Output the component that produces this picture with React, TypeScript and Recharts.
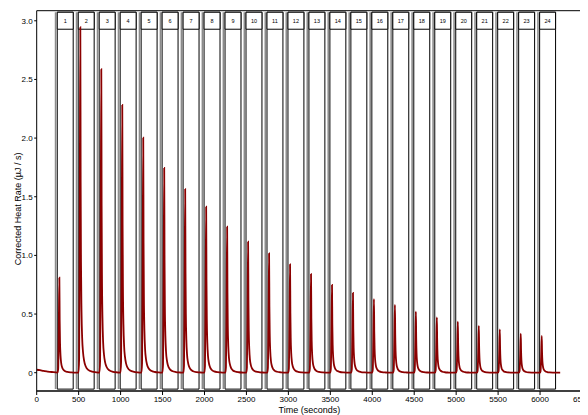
import { LineChart, Line, XAxis, YAxis, ReferenceArea, ReferenceLine } from 'recharts';

const FONT = '"Liberation Sans", Arial, sans-serif';

// peak maxima (time s, height µJ/s)
const peakTimes = [270, 520, 770, 1020, 1270, 1520, 1770, 2020, 2270, 2520, 2770, 3020,
  3270, 3520, 3770, 4020, 4270, 4520, 4770, 5020, 5270, 5520, 5770, 6020];
const peakHeights = [0.81, 2.945, 2.587, 2.282, 2.003, 1.745, 1.565, 1.415, 1.245, 1.117, 1.018, 0.924,
  0.841, 0.748, 0.68, 0.628, 0.577, 0.52, 0.472, 0.435, 0.4, 0.37, 0.332, 0.313];

// shape of one injection peak, relative to its maximum
const shapeOffsets = [-22, -14, -7, 0, 4, 8, 14, 22, 32, 45, 65, 95, 140, 190, 220];
const shapeFractions = [0, 0.04, 0.45, 1, 0.55, 0.32, 0.18, 0.1, 0.06, 0.035, 0.018, 0.008, 0.003, 0.001, 0];

// pre-injection baseline
const startTimes = [0, 40, 80, 130, 180, 230];
const startValues = [0.025, 0.022, 0.015, 0.01, 0.006, 0.003];

// injection windows
const boxStarts = [245, 495, 745, 995, 1245, 1495, 1745, 1995, 2245, 2495, 2745, 2995,
  3245, 3495, 3745, 3995, 4245, 4495, 4745, 4995, 5245, 5495, 5745, 5995];
const boxEnds = [435, 685, 935, 1185, 1435, 1685, 1935, 2185, 2435, 2685, 2935, 3185,
  3435, 3685, 3935, 4185, 4435, 4685, 4935, 5185, 5435, 5685, 5935, 6185];
const boxLabels = ['1', '2', '3', '4', '5', '6', '7', '8', '9', '10', '11', '12',
  '13', '14', '15', '16', '17', '18', '19', '20', '21', '22', '23', '24'];

const xTicks = [0, 500, 1000, 1500, 2000, 2500, 3000, 3500, 4000, 4500, 5000, 5500, 6000, 6500];
const xMinorTicks = Array.from({ length: 66 }, (_, i) => i * 100);
const yTicks = [0, 0.5, 1, 1.5, 2, 2.5, 3];
const yMinorTicks = [-0.1, 0, 0.1, 0.2, 0.3, 0.4, 0.5, 0.6, 0.7, 0.8, 0.9, 1, 1.1, 1.2, 1.3, 1.4, 1.5,
  1.6, 1.7, 1.8, 1.9, 2, 2.1, 2.2, 2.3, 2.4, 2.5, 2.6, 2.7, 2.8, 2.9, 3];

const X_DOMAIN: [number, number] = [0, 6500];
const Y_DOMAIN: [number, number] = [-0.156, 3.086];
const BOX_BOTTOM = -0.14;
const BOX_TOP = 3.073;
const LABEL_BOTTOM = 2.928;

const data: { t: number; v: number }[] = [];
startTimes.forEach((t, i) => data.push({ t, v: startValues[i] }));
peakTimes.forEach((p, k) => {
  shapeOffsets.forEach((o, j) => {
    data.push({ t: p + o, v: peakHeights[k] * shapeFractions[j] });
  });
});

export default function App() {
  return (
    <div style={{ width: 580, height: 407 }}>
      <LineChart width={580} height={407} data={data} margin={{ top: 2.7, right: 6, bottom: 0, left: 0 }}>
        <XAxis
          xAxisId="main"
          type="number"
          dataKey="t"
          domain={X_DOMAIN}
          allowDataOverflow
          ticks={xTicks}
          interval={0}
          height={24}
          tickSize={4}
          tickMargin={1}
          axisLine={{ stroke: '#000', strokeWidth: 1.6 }}
          tickLine={{ stroke: '#000' }}
          tick={{ fontSize: 8, fill: '#000', fontFamily: FONT }}
          label={{ value: 'Time (seconds)', position: 'insideBottom', offset: 2, fontSize: 9, fill: '#000', fontFamily: FONT }}
        />
        <XAxis xAxisId="minor" type="number" dataKey="t" domain={X_DOMAIN} allowDataOverflow ticks={xMinorTicks}
          interval={0} mirror tick={false} axisLine={false} tickSize={3} tickLine={{ stroke: '#000' }} />
        <XAxis xAxisId="majorIn" type="number" dataKey="t" domain={X_DOMAIN} allowDataOverflow ticks={xTicks}
          interval={0} mirror tick={false} axisLine={false} tickSize={4} tickLine={{ stroke: '#000' }} />
        <XAxis xAxisId="top" orientation="top" type="number" dataKey="t" domain={X_DOMAIN} allowDataOverflow
          mirror tick={false} tickLine={false} axisLine={{ stroke: '#000' }} />
        <YAxis
          yAxisId="main"
          type="number"
          domain={Y_DOMAIN}
          allowDataOverflow
          ticks={yTicks}
          interval={0}
          width={28.7}
          tickSize={2.5}
          tickMargin={1.5}
          axisLine={{ stroke: '#000' }}
          tickLine={{ stroke: '#000' }}
          tickFormatter={(v: number) => (v === 0 ? '0' : v.toFixed(1))}
          tick={{ fontSize: 8, fill: '#000', fontFamily: FONT }}
          label={{ value: 'Corrected Heat Rate (µJ / s)', angle: -90, position: 'center', dx: -5, dy: 8, fontSize: 9, fill: '#000', fontFamily: FONT }}
        />
        <YAxis yAxisId="minor" type="number" domain={Y_DOMAIN} allowDataOverflow ticks={yMinorTicks} interval={0}
          mirror tick={false} axisLine={false} tickSize={2.5} tickLine={{ stroke: '#000' }} />
        <YAxis yAxisId="right" orientation="right" type="number" domain={Y_DOMAIN} allowDataOverflow
          mirror tick={false} tickLine={false} axisLine={{ stroke: '#000' }} />

        {boxStarts.map((s, i) => (
          <ReferenceLine
            key={'g' + i}
            xAxisId="main"
            yAxisId="main"
            segment={[{ x: s - 20, y: BOX_BOTTOM }, { x: s - 20, y: BOX_TOP }]}
            stroke="#8c8c8c"
            strokeWidth={1.6}
            ifOverflow="visible"
          />
        ))}
        {boxStarts.map((s, i) => (
          <ReferenceArea
            key={'b' + i}
            xAxisId="main"
            yAxisId="main"
            x1={s}
            x2={boxEnds[i]}
            y1={BOX_BOTTOM}
            y2={BOX_TOP}
            fill="none"
            stroke="#000"
            strokeWidth={1}
            ifOverflow="visible"
          />
        ))}
        {boxStarts.map((s, i) => (
          <ReferenceArea
            key={'l' + i}
            xAxisId="main"
            yAxisId="main"
            x1={s}
            x2={boxEnds[i]}
            y1={LABEL_BOTTOM}
            y2={BOX_TOP}
            fill="#fff"
            fillOpacity={1}
            stroke="#000"
            strokeWidth={1}
            ifOverflow="visible"
            label={{ value: boxLabels[i], position: 'center', fontSize: 5.5, fill: '#000', fontFamily: FONT }}
          />
        ))}

        <Line
          xAxisId="main"
          yAxisId="main"
          type="monotone"
          dataKey="v"
          stroke="#8b0000"
          strokeWidth={1.8}
          dot={false}
          isAnimationActive={false}
        />
      </LineChart>
    </div>
  );
}
